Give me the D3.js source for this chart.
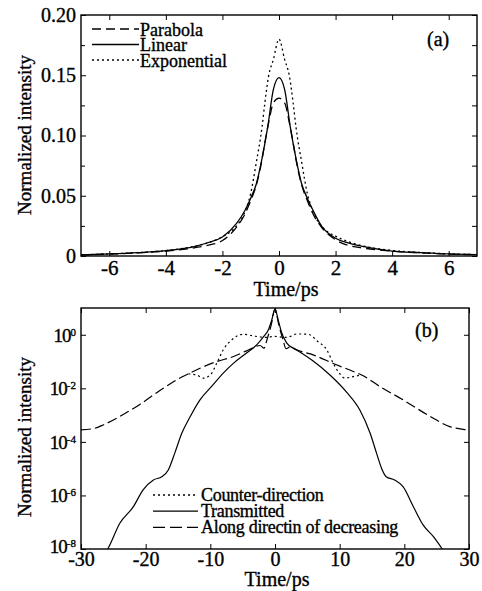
<!DOCTYPE html>
<html>
<head>
<meta charset="utf-8">
<script src="https://cdn.jsdelivr.net/npm/d3@7"></script>
<style>
  body { margin: 0; background: #fff; }
  svg { display: block; }
  text { font-family: "Liberation Serif", "Times New Roman", serif; fill: #000; stroke: #000; stroke-width: 0.35px; }
</style>
</head>
<body>
<div id="chart"></div>
<script>
// ---- panel (a) data: normalized intensity vs time (ps) ----
var timeParabola = [-7, -6, -5, -4, -3, -2.5, -2, -1.5, -1.2, -1, -0.8, -0.6, -0.5, -0.37, -0.2, 0, 0.2, 0.37, 0.5, 0.6, 0.8, 1, 1.2, 1.5, 2, 2.5, 3, 4, 5, 6, 7];
var parabola = [0.0008, 0.0016, 0.0026, 0.0040, 0.0068, 0.0090, 0.0128, 0.024, 0.035, 0.046, 0.059, 0.080, 0.094, 0.110, 0.127, 0.131, 0.127, 0.110, 0.094, 0.080, 0.059, 0.046, 0.035, 0.024, 0.0135, 0.0085, 0.0065, 0.0040, 0.0026, 0.0016, 0.0010];

var timeLinear = [-7, -6, -5, -4, -3, -2.5, -2, -1.5, -1.2, -1, -0.8, -0.6, -0.4, -0.2, 0, 0.2, 0.4, 0.6, 0.8, 1, 1.2, 1.5, 2, 2.5, 3, 4, 5, 6, 7];
var linear = [0.0009, 0.0017, 0.0028, 0.0044, 0.0077, 0.0112, 0.0158, 0.027, 0.038, 0.048, 0.060, 0.081, 0.107, 0.138, 0.148, 0.138, 0.107, 0.081, 0.060, 0.048, 0.038, 0.025, 0.0147, 0.0105, 0.0077, 0.0041, 0.0028, 0.0017, 0.0012];

var timeExponential = [-7, -6, -5, -4, -3, -2.5, -2, -1.6, -1.2, -1, -0.8, -0.6, -0.5, -0.37, -0.2, 0, 0.2, 0.37, 0.5, 0.6, 0.8, 1, 1.2, 1.6, 2, 2.5, 3, 4, 5, 6, 7];
var exponential = [0.0010, 0.0017, 0.0028, 0.0045, 0.0080, 0.0110, 0.0160, 0.0225, 0.037, 0.052, 0.078, 0.107, 0.127, 0.149, 0.163, 0.180, 0.163, 0.149, 0.127, 0.107, 0.078, 0.052, 0.037, 0.0225, 0.0165, 0.0115, 0.0082, 0.0046, 0.0029, 0.0018, 0.0011];

var ticksA_x = [-6, -4, -2, 0, 2, 4, 6];
var ticksA_y = [0, 0.05, 0.10, 0.15, 0.20];
var labelsA_y = ["0", "0.05", "0.10", "0.15", "0.20"];
var minorA_y = [0.025, 0.075, 0.125, 0.175];

// ---- panel (b) data: log10 of normalized intensity vs time (ps) ----
var timeTransmitted = [-26.4, -25.8, -24, -21.9, -20.4, -18.8, -17.5, -16.5, -15.5, -14.4, -13.1, -11.6, -9.8, -8, -6.4, -4.4, -2.8, -1.8, -1, -0.5, 0, 0.5, 1, 1.8, 2.8, 3.9, 5.9, 8.5, 11.1, 13.1, 14.7, 15.7, 16.5, 17.2, 18.5, 19.8, 21.4, 22.9, 24.5, 25.8, 26.4];
var transmittedLog = [-8.2, -7.97, -7.04, -6.42, -5.79, -5.42, -5.30, -5.05, -4.42, -3.67, -3.05, -2.43, -1.93, -1.43, -1.06, -0.68, -0.37, -0.08, 0.2, 0.55, 0.97, 0.55, 0.1, -0.3, -0.5, -0.65, -0.98, -1.5, -2.15, -2.8, -3.67, -4.42, -5.0, -5.3, -5.42, -5.67, -6.42, -7.1, -7.54, -7.98, -8.2];

var timeAlong = [-30, -28, -26.5, -24, -20.9, -17.8, -15.2, -13.4, -11.6, -9, -6.4, -4.4, -2.3, -1.7, -1.2, -0.6, 0, 0.6, 1.2, 1.7, 2.4, 3.35, 5.9, 9.5, 12.1, 13.4, 16.2, 19.8, 24, 27, 29.1, 30];
var alongLog = [-3.55, -3.5, -3.36, -3.05, -2.6, -2.08, -1.68, -1.46, -1.25, -1.0, -0.81, -0.6, -0.40, -0.50, -0.15, 0.35, 0.95, 0.35, -0.15, -0.52, -0.45, -0.56, -0.75, -1.12, -1.37, -1.5, -1.93, -2.43, -3.05, -3.43, -3.53, -3.55];

var timeCounter = [-13.4, -12.1, -11.1, -10, -9, -8, -6.7, -4.9, -3.4, -2.4, -1.5, 0, 1.5, 2.4, 3.35, 5.1, 6.6, 8, 9, 10, 10.8, 12.1, 13.4];
var counterLog = [-1.46, -1.5, -1.62, -1.5, -1.06, -0.56, -0.19, 0.02, -0.04, -0.08, -0.10, -0.06, -0.10, -0.06, 0.03, 0.02, -0.25, -0.56, -1.06, -1.45, -1.62, -1.56, -1.5];

var ticksB_x = [-30, -20, -10, 0, 10, 20, 30];
var ticksB_exp = [0, -2, -4, -6, -8];

var svg = d3.select("#chart")
    .append("svg")
    .attr("width", 482)
    .attr("height", 591);

// helper to draw a boxed panel
function drawFrame(g, x, y, w, h) {
    g.append("rect")
        .attr("x", x).attr("y", y)
        .attr("width", w).attr("height", h)
        .attr("fill", "none")
        .attr("stroke", "#000")
        .attr("stroke-width", 1.4);
}

// ================= panel (a) =================
var xA = d3.scaleLinear().domain([-7, 7]).range([81, 477]);
var yA = d3.scaleLinear().domain([0, 0.2]).range([256, 15]);

var gA = svg.append("g");

svg.append("clipPath").attr("id", "clipA")
    .append("rect").attr("x", 81).attr("y", 15).attr("width", 396).attr("height", 241);

// bottom axis with labels
gA.append("g")
    .attr("transform", "translate(0,256)")
    .call(d3.axisBottom(xA).tickValues(ticksA_x).tickSizeInner(-5).tickSizeOuter(0).tickPadding(4)
        .tickFormat(function (d) { return String(d); }))
    .call(function (g) { g.select(".domain").remove(); })
    .selectAll("text").style("font-size", "21px").style("font-family", "Liberation Serif");
// top axis ticks
gA.append("g")
    .attr("transform", "translate(0,15)")
    .call(d3.axisTop(xA).tickValues(ticksA_x).tickSizeInner(-5).tickSizeOuter(0).tickFormat(""))
    .call(function (g) { g.select(".domain").remove(); });
// left axis
gA.append("g")
    .attr("transform", "translate(81,0)")
    .call(d3.axisLeft(yA).tickValues(ticksA_y).tickSizeInner(-5).tickSizeOuter(0).tickPadding(5)
        .tickFormat(function (d, i) { return labelsA_y[i]; }))
    .call(function (g) { g.select(".domain").remove(); })
    .selectAll("text").style("font-size", "20px").style("font-family", "Liberation Serif");
gA.append("g")
    .attr("transform", "translate(81,0)")
    .call(d3.axisLeft(yA).tickValues(minorA_y).tickSizeInner(-4).tickSizeOuter(0).tickFormat(""))
    .call(function (g) { g.select(".domain").remove(); });
// right axis
gA.append("g")
    .attr("transform", "translate(477,0)")
    .call(d3.axisRight(yA).tickValues(ticksA_y.concat(minorA_y)).tickSizeInner(-5).tickSizeOuter(0).tickFormat(""))
    .call(function (g) { g.select(".domain").remove(); });

drawFrame(gA, 81, 15, 396, 241);

var lineA = function (times) {
    return d3.line()
        .x(function (d, i) { return xA(times[i]); })
        .y(function (d) { return yA(d); })
        .curve(d3.curveMonotoneX);
};

var seriesA = [
    { values: parabola, times: timeParabola, dash: "9,5" },
    { values: linear, times: timeLinear, dash: null },
    { values: exponential, times: timeExponential, dash: "2,3" }
];

seriesA.forEach(function (s) {
    gA.append("path")
        .attr("clip-path", "url(#clipA)")
        .attr("d", lineA(s.times)(s.values))
        .attr("fill", "none")
        .attr("stroke", "#000")
        .attr("stroke-width", 1.3)
        .attr("stroke-dasharray", s.dash);
});

// legend (a)
var legendA = [
    { label: "Parabola", dash: "9,5" },
    { label: "Linear", dash: null },
    { label: "Exponential", dash: "2,3" }
];
legendA.forEach(function (d, i) {
    var ly = 29 + i * 15.5;
    gA.append("line")
        .attr("x1", 92).attr("x2", 139)
        .attr("y1", ly).attr("y2", ly)
        .attr("stroke", "#000").attr("stroke-width", 1.3)
        .attr("stroke-dasharray", d.dash);
    gA.append("text")
        .attr("x", 140).attr("y", ly + 6.5)
        .style("font-size", "18px")
        .text(d.label);
});

gA.append("text").attr("x", 427).attr("y", 46).style("font-size", "20px").text("(a)");

gA.append("text")
    .attr("text-anchor", "middle")
    .attr("x", 286).attr("y", 296)
    .style("font-size", "20px")
    .text("Time/ps");

gA.append("text")
    .attr("text-anchor", "middle")
    .attr("transform", "translate(31,135) rotate(-90)")
    .style("font-size", "19px")
    .text("Normalized intensity");

// ================= panel (b) =================
var xB = d3.scaleLinear().domain([-30, 30]).range([81, 469]);
var yB = d3.scaleLog().domain([1e-8, 1e1]).range([549, 308]);

var gB = svg.append("g");

svg.append("clipPath").attr("id", "clipB")
    .append("rect").attr("x", 81).attr("y", 308).attr("width", 388).attr("height", 241);

gB.append("g")
    .attr("transform", "translate(0,549)")
    .call(d3.axisBottom(xB).tickValues(ticksB_x).tickSizeInner(-5).tickSizeOuter(0).tickPadding(3)
        .tickFormat(function (d) { return String(d); }))
    .call(function (g) { g.select(".domain").remove(); })
    .selectAll("text").style("font-size", "20px").style("font-family", "Liberation Serif");
gB.append("g")
    .attr("transform", "translate(0,308)")
    .call(d3.axisTop(xB).tickValues(ticksB_x).tickSizeInner(-5).tickSizeOuter(0).tickFormat(""))
    .call(function (g) { g.select(".domain").remove(); });

var tickValsB = ticksB_exp.map(function (e) { return Math.pow(10, e); });
gB.append("g")
    .attr("transform", "translate(81,0)")
    .call(d3.axisLeft(yB).tickValues(tickValsB).tickSizeInner(-5).tickSizeOuter(0).tickFormat(""))
    .call(function (g) { g.select(".domain").remove(); });
gB.append("g")
    .attr("transform", "translate(469,0)")
    .call(d3.axisRight(yB).tickValues(tickValsB).tickSizeInner(-5).tickSizeOuter(0).tickFormat(""))
    .call(function (g) { g.select(".domain").remove(); });

// y labels as 10^n
ticksB_exp.forEach(function (e) {
    var t = gB.append("text")
        .attr("text-anchor", "end")
        .attr("x", 76)
        .attr("y", yB(Math.pow(10, e)) + (e === -8 ? 4 : 7))
        .style("font-size", "19px")
        .style("letter-spacing", "-1px");
    t.append("tspan").text("10");
    t.append("tspan")
        .attr("dy", -6)
        .style("font-size", "11px")
        .style("letter-spacing", "0px")
        .text(e === 0 ? "0" : "-" + Math.abs(e));
});

drawFrame(gB, 81, 308, 388, 241);

var lineB = function (times) {
    return d3.line()
        .x(function (d, i) { return xB(times[i]); })
        .y(function (d) { return yB(Math.pow(10, d)); })
        .curve(d3.curveMonotoneX);
};

var seriesB = [
    { values: counterLog, times: timeCounter, dash: "2,3" },
    { values: transmittedLog, times: timeTransmitted, dash: null },
    { values: alongLog, times: timeAlong, dash: "10,4" }
];

seriesB.forEach(function (s) {
    gB.append("path")
        .attr("clip-path", "url(#clipB)")
        .attr("d", lineB(s.times)(s.values))
        .attr("fill", "none")
        .attr("stroke", "#000")
        .attr("stroke-width", 1.2)
        .attr("stroke-dasharray", s.dash);
});

// legend (b)
var legendB = [
    { label: "Counter-direction", dash: "2,3" },
    { label: "Transmitted", dash: null },
    { label: "Along directin of decreasing", dash: "12,5" }
];
legendB.forEach(function (d, i) {
    var ly = 495 + i * 16.2;
    gB.append("line")
        .attr("x1", 153).attr("x2", 198)
        .attr("y1", ly).attr("y2", ly)
        .attr("stroke", "#000").attr("stroke-width", 1.3)
        .attr("stroke-dasharray", d.dash);
    gB.append("text")
        .attr("x", 201).attr("y", ly + 6)
        .style("font-size", "18px")
        .style("letter-spacing", "-0.3px")
        .text(d.label);
});

gB.append("text").attr("x", 415).attr("y", 337).style("font-size", "20px").text("(b)");

gB.append("text")
    .attr("text-anchor", "middle")
    .attr("x", 277).attr("y", 586)
    .style("font-size", "20px")
    .text("Time/ps");

gB.append("text")
    .attr("text-anchor", "middle")
    .attr("transform", "translate(31,437) rotate(-90)")
    .style("font-size", "19px")
    .text("Normalized intensity");
</script>
</body>
</html>
